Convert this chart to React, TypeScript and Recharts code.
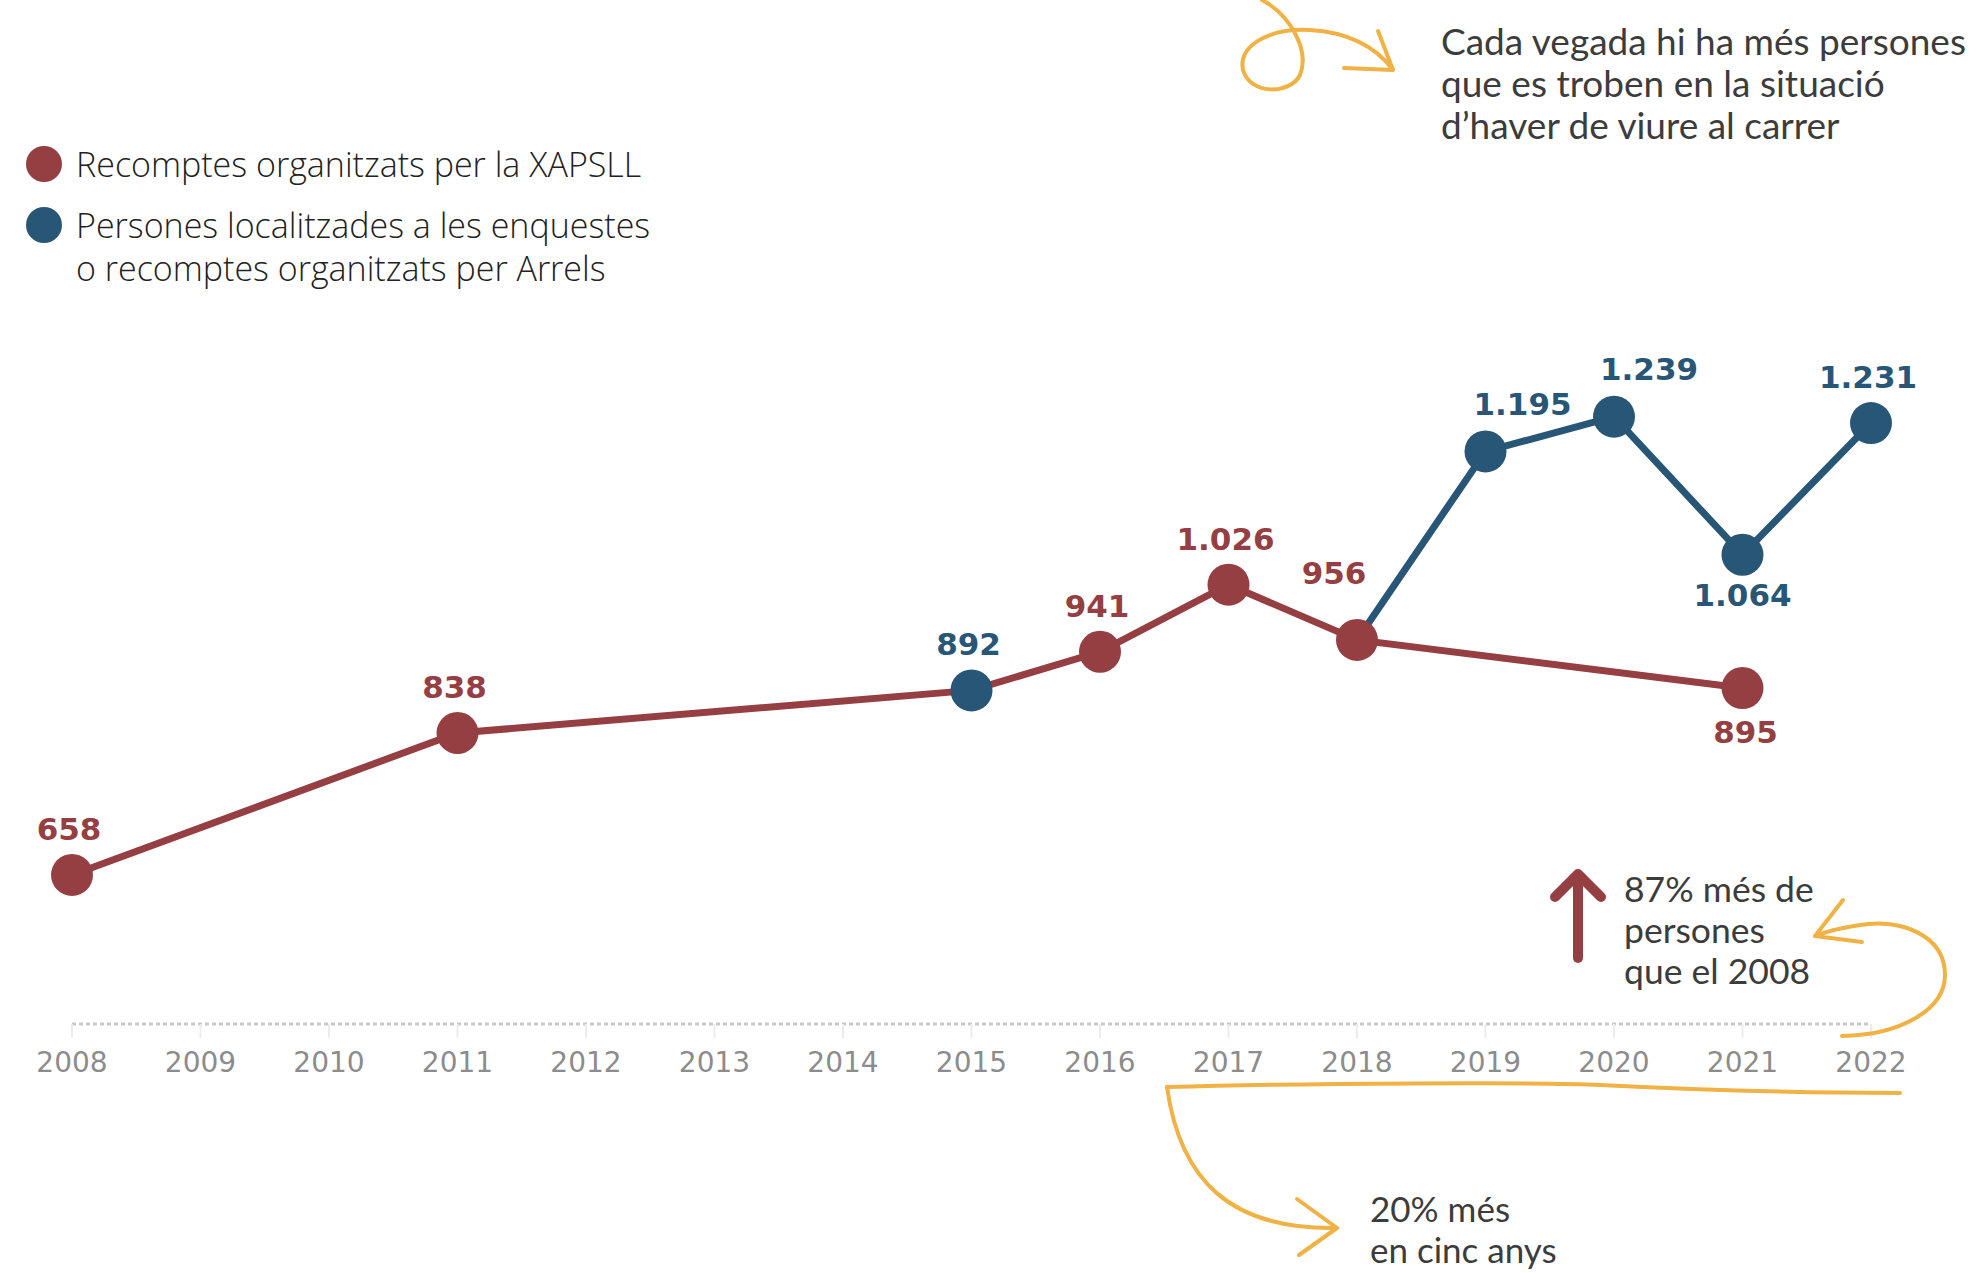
import { LineChart, Line, XAxis, YAxis, LabelList } from "recharts";

// anys i valors llegits del gràfic
const years = [2008, 2009, 2010, 2011, 2012, 2013, 2014, 2015, 2016, 2017, 2018, 2019, 2020, 2021, 2022];
const xapsll = [658, null, null, 838, null, null, null, null, 941, 1026, 956, null, null, 895, null];
const arrels = [null, null, null, null, null, null, null, 892, null, null, null, 1195, 1239, 1064, 1231];

// on una línia passa pel punt de l'altra sèrie
const redBridgeYears = [2015];
const blueBridgeYears = [2018];

const legendLines = [
  ["Recomptes organitzats per la XAPSLL"],
  ["Persones localitzades a les enquestes", "o recomptes organitzats per Arrels"],
];

const RED = "#953f43";
const BLUE = "#285676";
const ORANGE = "#f0b145";
const TEXT = "#3c3c3c";

// desplaçament de l'etiqueta respecte del punt
const DEFAULT_OFFSET: [number, number] = [-3, -46];
const labelOffset: Record<string, Record<number, [number, number]>> = {
  xapsll: { 2018: [-23, -67], 2021: [3, 44] },
  arrels: { 2019: [37, -47], 2020: [35, -48], 2021: [0, 40] },
};

const fmt = (v: number) =>
  v >= 1000 ? `${Math.floor(v / 1000)}.${String(v % 1000).padStart(3, "0")}` : String(v);

const data = years.map((year, i) => ({
  year,
  xapsll: xapsll[i],
  arrels: arrels[i],
  redPath: xapsll[i] ?? (redBridgeYears.includes(year) ? arrels[i] : null),
  bluePath: arrels[i] ?? (blueBridgeYears.includes(year) ? xapsll[i] : null),
}));

const makeDot = (key: "xapsll" | "arrels", color: string) => (p: any) => {
  if (p.payload?.[key] == null || p.cx == null) return <g key={`${key}-${p.index}`} />;
  return <circle key={`${key}-${p.index}`} cx={p.cx} cy={p.cy} r={21} fill={color} />;
};

const makeLabel = (key: "xapsll" | "arrels", color: string) => (p: any) => {
  if (p.value == null) return null;
  const year = years[p.index];
  const [dx, dy] = labelOffset[key][year] ?? DEFAULT_OFFSET;
  return (
    <text
      key={`lab-${key}-${p.index}`}
      x={p.x + dx}
      y={p.y + dy}
      textAnchor="middle"
      dominantBaseline="central"
      fill={color}
      fontSize={31}
      fontWeight={700}
      fontFamily="DejaVu Sans, Verdana, sans-serif"
    >
      {fmt(p.value)}
    </text>
  );
};

const YearTick = (p: any) => (
  <text
    x={p.x}
    y={p.y + 24}
    textAnchor="middle"
    dominantBaseline="central"
    fill="#8c8c8c"
    fontSize={28}
    fontFamily="DejaVu Sans, sans-serif"
  >
    {p.payload.value}
  </text>
);

export default function App() {
  return (
    <div style={{ position: "absolute", left: 0, top: 0, width: 1976, height: 1273, background: "#fff" }}>
      <LineChart
        width={1976}
        height={1273}
        data={data}
        margin={{ top: 300, right: 105, bottom: 0, left: 72 }}
      >
        <XAxis
          dataKey="year"
          type="number"
          domain={[2008, 2022]}
          ticks={years}
          interval={0}
          height={249}
          axisLine={{ stroke: "#c9c9c9", strokeWidth: 3, strokeDasharray: "4 3" }}
          tickLine={{ stroke: "#ececec", strokeWidth: 2 }}
          tickSize={14}
          tickMargin={0}
          tick={<YearTick />}
        />
        <YAxis hide domain={[469, 1387]} />
        <Line
          dataKey="redPath"
          stroke={RED}
          strokeWidth={7}
          connectNulls
          dot={false}
          isAnimationActive={false}
        />
        <Line
          dataKey="bluePath"
          stroke={BLUE}
          strokeWidth={7}
          dot={makeDot("arrels", BLUE)}
          activeDot={false}
          isAnimationActive={false}
        >
          <LabelList dataKey="arrels" content={makeLabel("arrels", BLUE)} />
        </Line>
        <Line
          dataKey="xapsll"
          stroke="none"
          connectNulls
          dot={makeDot("xapsll", RED)}
          activeDot={false}
          isAnimationActive={false}
        >
          <LabelList dataKey="xapsll" content={makeLabel("xapsll", RED)} />
        </Line>
      </LineChart>

      <svg
        width={1976}
        height={1273}
        style={{ position: "absolute", left: 0, top: 0, pointerEvents: "none" }}
      >
        {/* llegenda */}
        <g fontFamily="Open Sans, sans-serif" fontWeight={300} fontSize={34} fill="#222">
          <circle cx={44} cy={164} r={18} fill={RED} />
          <text x={76} y={164} dominantBaseline="central">{legendLines[0][0]}</text>
          <circle cx={44} cy={225} r={18} fill={BLUE} />
          <text x={76} y={225} dominantBaseline="central">{legendLines[1][0]}</text>
          <text x={76} y={268} dominantBaseline="central">{legendLines[1][1]}</text>
        </g>

        {/* anotació superior */}
        <g fill="none" stroke={ORANGE} strokeWidth={4} strokeLinecap="round" strokeLinejoin="round">
          <path d="M 1262 0 C 1290 15, 1310 50, 1300 75 C 1290 95, 1250 95, 1243 70 C 1238 45, 1270 28, 1310 30 C 1345 32, 1375 45, 1393 70" />
          <path d="M 1378 31 L 1393 70 L 1344 68" />
        </g>
        <g fontFamily="Lato, sans-serif" fontSize={37} fill={TEXT}>
          <text x={1441} y={40} dominantBaseline="central">Cada vegada hi ha més persones</text>
          <text x={1441} y={82} dominantBaseline="central">que es troben en la situació</text>
          <text x={1441} y={124} dominantBaseline="central">d’haver de viure al carrer</text>
        </g>

        {/* 87% */}
        <g fill="none" stroke={RED} strokeWidth={10} strokeLinecap="round" strokeLinejoin="round">
          <path d="M 1578 958 L 1578 877" />
          <path d="M 1555 897 L 1578 874 L 1601 897" />
        </g>
        <g fontFamily="Lato, sans-serif" fontSize={35.5} fill={TEXT}>
          <text x={1624} y={888} dominantBaseline="central">87% més de</text>
          <text x={1624} y={929} dominantBaseline="central">persones</text>
          <text x={1624} y={970} dominantBaseline="central">que el 2008</text>
        </g>
        <g fill="none" stroke={ORANGE} strokeWidth={4} strokeLinecap="round" strokeLinejoin="round">
          <path d="M 1842 1036 C 1900 1035, 1945 1010, 1945 975 C 1945 935, 1900 918, 1860 925 C 1840 928, 1825 932, 1815 936" />
          <path d="M 1843 900 L 1815 936 L 1862 942" />
        </g>

        {/* 20% */}
        <g fill="none" stroke={ORANGE} strokeWidth={4} strokeLinecap="round" strokeLinejoin="round">
          <path d="M 1167 1087 C 1300 1083, 1550 1082, 1600 1085 C 1700 1090, 1800 1093, 1900 1093" />
          <path d="M 1167 1087 C 1180 1180, 1230 1230, 1337 1228" />
          <path d="M 1297 1199 L 1337 1228 L 1299 1255" />
        </g>
        <g fontFamily="Lato, sans-serif" fontSize={35} fill={TEXT}>
          <text x={1370} y={1208} dominantBaseline="central">20% més</text>
          <text x={1370} y={1249} dominantBaseline="central">en cinc anys</text>
        </g>
      </svg>
    </div>
  );
}
